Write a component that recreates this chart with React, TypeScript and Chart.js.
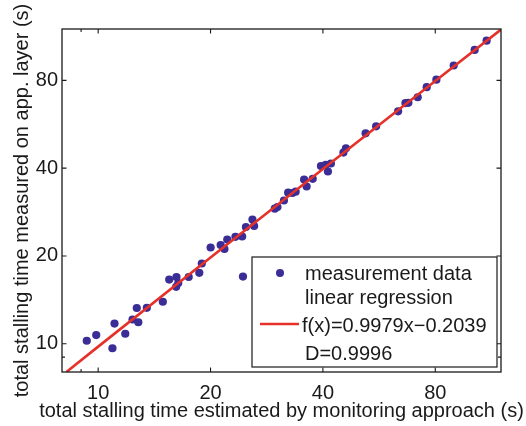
import React, { useEffect, useRef } from "react";
import { Chart, registerables } from "chart.js";

Chart.register(...registerables);

// measured points (estimated x, measured y), in seconds
const measX = [
  9.32, 9.88, 10.92, 11.06, 11.82, 12.36, 12.81, 12.69, 13.5, 14.9,
  15.5, 16.21, 16.18, 16.39, 17.48, 18.66, 18.95, 20.01, 21.29, 21.79,
  22.17, 23.32, 24.31, 24.43, 24.88, 25.9, 26.17, 29.72, 30.22, 31.45,
  32.28, 33.14, 33.81, 35.62, 36.18, 37.56, 39.52, 40.7, 41.26, 42.03,
  45.4, 46.11, 52.06, 55.54, 63.61, 66.55, 67.77, 71.79, 75.88, 80.55,
  89.63, 102.0, 109.8,
];
const measY = [
  10.24, 10.71, 9.65, 11.73, 10.82, 12.11, 11.85, 13.26, 13.28, 13.93,
  16.6, 16.94, 15.67, 16.15, 16.94, 17.51, 18.84, 21.38, 21.8, 21.13,
  22.77, 23.26, 23.32, 17.0, 25.13, 26.66, 25.33, 29.04, 29.43, 30.98,
  32.95, 32.87, 33.21, 36.57, 34.6, 36.77, 40.68, 41.07, 38.95, 41.49,
  45.25, 46.79, 52.67, 55.65, 62.65, 66.89, 66.99, 70.02, 75.78, 80.4,
  89.94, 101.7, 109.4,
];

// linear regression f(x)=0.9979x-0.2039, sampled values
const regX = [8.22, 10, 20, 40, 80, 120];
const regY = [8.0, 9.775, 19.754, 39.712, 79.628, 119.544];

const tickValues = [10, 20, 40, 80];
const minorTickValues = [9];
const axisMin = 8;
const axisMax = 120;

const xTitle = "total stalling time estimated by monitoring approach (s)";
const yTitle = "total stalling time measured on app. layer (s)";
const legendLabels = [
  "measurement data",
  "linear regression",
  "f(x)=0.9979x\u22120.2039",
  "D=0.9996",
];

const FONT = '"Liberation Sans", Arial, Helvetica, sans-serif';
const DOT = "#3a2d96";
const RED = "#e5312a";
const INK = "#1a1a1a";

const decor = {
  id: "decor",
  afterDraw(chart: any) {
    const { ctx, chartArea } = chart;
    const { left, right, top, bottom } = chartArea;
    const xs = chart.scales.x;
    const ys = chart.scales.y;
    ctx.save();
    // frame
    ctx.strokeStyle = INK;
    ctx.lineWidth = 1.3;
    ctx.strokeRect(left, top, right - left, bottom - top);
    // inward ticks
    ctx.lineWidth = 1.1;
    const drawTicks = (vals: number[], len: number) => {
      ctx.beginPath();
      for (const v of vals) {
        const px = xs.getPixelForValue(v);
        ctx.moveTo(px, bottom);
        ctx.lineTo(px, bottom - len);
        ctx.moveTo(px, top);
        ctx.lineTo(px, top + len);
        const py = ys.getPixelForValue(v);
        ctx.moveTo(left, py);
        ctx.lineTo(left + len, py);
        ctx.moveTo(right, py);
        ctx.lineTo(right - len, py);
      }
      ctx.stroke();
    };
    drawTicks(tickValues, 4.5);
    drawTicks(minorTickValues, 3);

    // axis titles
    ctx.fillStyle = INK;
    ctx.font = `20px ${FONT}`;
    ctx.textAlign = "center";
    ctx.textBaseline = "middle";
    ctx.fillText(xTitle, (left + right) / 2, 411);
    ctx.save();
    ctx.translate(22, (top + bottom) / 2);
    ctx.rotate(-Math.PI / 2);
    ctx.fillText(yTitle, 0, 0);
    ctx.restore();

    // legend
    const lx = 252, ly = 257, lw = 245, lh = 110;
    ctx.fillStyle = "#ffffff";
    ctx.fillRect(lx, ly, lw, lh);
    ctx.strokeStyle = INK;
    ctx.lineWidth = 1.2;
    ctx.strokeRect(lx, ly, lw, lh);
    ctx.fillStyle = DOT;
    ctx.beginPath();
    ctx.arc(280, 273, 4.0, 0, Math.PI * 2);
    ctx.fill();
    ctx.strokeStyle = RED;
    ctx.lineWidth = 2.5;
    ctx.beginPath();
    ctx.moveTo(260, 324);
    ctx.lineTo(299, 324);
    ctx.stroke();
    ctx.fillStyle = INK;
    ctx.textAlign = "left";
    ctx.textBaseline = "alphabetic";
    const baselines = [280, 304, 332, 360];
    const starts = [305, 305, 302, 305];
    legendLabels.forEach((t, i) => ctx.fillText(t, starts[i], baselines[i]));
    ctx.restore();
  },
};

export default function App() {
  const ref = useRef<HTMLCanvasElement | null>(null);
  useEffect(() => {
    if (!ref.current) return;
    const logAxis = (fitProp: "width" | "height", size: number, pad: number) => ({
      type: "logarithmic" as const,
      min: axisMin,
      max: axisMax,
      grid: { display: false, drawTicks: false },
      border: { display: false },
      afterBuildTicks: (scale: any) => {
        scale.ticks = tickValues.map((v) => ({ value: v }));
      },
      afterFit: (scale: any) => {
        scale[fitProp] = size;
      },
      ticks: {
        color: INK,
        padding: pad,
        font: { family: FONT, size: 20 },
        autoSkip: false,
        maxRotation: 0,
        callback: (v: any) => String(v),
      },
    });
    const chart = new Chart(ref.current, {
      type: "scatter",
      data: {
        datasets: [
          {
            type: "line",
            label: "linear regression",
            data: regX.map((x, i) => ({ x, y: regY[i] })),
            borderColor: RED,
            borderWidth: 2.6,
            pointRadius: 0,
            fill: false,
            tension: 0,
            order: 0,
          } as any,
          {
            type: "scatter",
            label: "measurement data",
            data: measX.map((x, i) => ({ x, y: measY[i] })),
            backgroundColor: DOT,
            borderColor: DOT,
            pointRadius: 4.1,
            borderWidth: 0,
            order: 1,
          },
        ],
      },
      options: {
        responsive: false,
        animation: false,
        layout: { padding: { top: 29, right: 25, left: 0, bottom: 0 } },
        plugins: { legend: { display: false }, tooltip: { enabled: false } },
        scales: {
          x: logAxis("height", 54, 9),
          y: logAxis("width", 62, 4),
        },
      },
      plugins: [decor],
    });
    return () => chart.destroy();
  }, []);
  return (
    <div style={{ position: "fixed", left: 0, top: 0, width: 526, height: 426, background: "#fff" }}>
      <canvas ref={ref} width={526} height={426} style={{ width: 526, height: 426 }} />
    </div>
  );
}
